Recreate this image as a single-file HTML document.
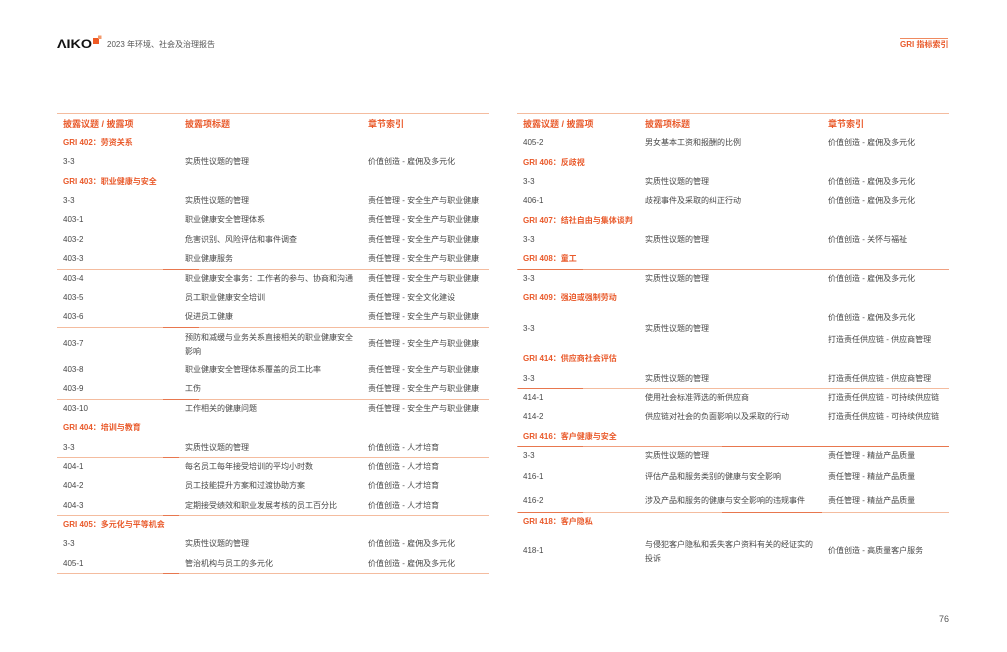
<!DOCTYPE html>
<html>
<head>
<meta charset="utf-8">
<style>
  html,body{margin:0;padding:0;background:#fff;}
  body{width:1007px;height:652px;position:relative;overflow:hidden;
       font-family:"Liberation Sans","Noto Sans CJK SC",sans-serif;color:#474747;}
  .tbl{position:absolute;top:0;left:0;width:432px;height:652px;}
  .r{position:absolute;left:0;width:432px;height:12px;font-size:8px;line-height:12px;white-space:nowrap;}
  .r span{position:absolute;top:0;}
  .a{left:6px;}
  .b{left:128px;}
  .c{left:311px;}
  .h{font-size:9px;font-weight:bold;color:#e95a2b;}
  .s{font-weight:bold;color:#e95a2b;}
  .l{position:absolute;left:0;width:432px;height:1px;background:#f4bc9f;}
  .l i{position:absolute;top:0;height:1px;background:#e8774e;}
  .two{line-height:14px !important;}
</style>
</head>
<body>

<!-- Header -->
<svg style="position:absolute;left:55px;top:34px" width="50" height="18">
  <text x="2" y="14" font-family="Liberation Sans, sans-serif" font-weight="bold" font-size="11.5" fill="#111" textLength="35" lengthAdjust="spacingAndGlyphs">ΛIKO</text>
  <rect x="38" y="4" width="6" height="6" fill="#ef5a24"/>
  <rect x="43" y="1.5" width="3.5" height="3.5" fill="#f39a6c"/>
</svg>
<div style="position:absolute;left:107px;top:39px;font-size:8px;line-height:12px;color:#555;white-space:nowrap;">2023 年环境、社会及治理报告</div>

<div style="position:absolute;left:900px;top:38px;width:48px;height:1px;background:#ef8a60;"></div>
<div style="position:absolute;left:900px;top:39px;font-size:8px;line-height:12px;font-weight:bold;color:#e95a2b;white-space:nowrap;">GRI 指标索引</div>

<div style="position:absolute;left:939px;top:613px;font-size:9px;line-height:12px;color:#555;">76</div>

<!-- Left table -->
<div class="tbl" style="left:57px;">
  <div class="l" style="top:113px;"></div>
  <div class="r" style="top:118px;"><span class="a h">披露议题 / 披露项</span><span class="b h">披露项标题</span><span class="c h">章节索引</span></div>
  <div class="r" style="top:137px;"><span class="a s">GRI 402：劳资关系</span></div>
  <div class="r" style="top:156px;"><span class="a">3-3</span><span class="b">实质性议题的管理</span><span class="c">价值创造 - 雇佣及多元化</span></div>
  <div class="r" style="top:176px;"><span class="a s">GRI 403：职业健康与安全</span></div>
  <div class="r" style="top:195px;"><span class="a">3-3</span><span class="b">实质性议题的管理</span><span class="c">责任管理 - 安全生产与职业健康</span></div>
  <div class="r" style="top:214px;"><span class="a">403-1</span><span class="b">职业健康安全管理体系</span><span class="c">责任管理 - 安全生产与职业健康</span></div>
  <div class="r" style="top:234px;"><span class="a">403-2</span><span class="b">危害识别、风险评估和事件调查</span><span class="c">责任管理 - 安全生产与职业健康</span></div>
  <div class="r" style="top:253px;"><span class="a">403-3</span><span class="b">职业健康服务</span><span class="c">责任管理 - 安全生产与职业健康</span></div>
  <div class="l" style="top:269px;"><i style="left:106px;width:36px;"></i></div>
  <div class="r" style="top:273px;"><span class="a">403-4</span><span class="b">职业健康安全事务：工作者的参与、协商和沟通</span><span class="c">责任管理 - 安全生产与职业健康</span></div>
  <div class="r" style="top:292px;"><span class="a">403-5</span><span class="b">员工职业健康安全培训</span><span class="c">责任管理 - 安全文化建设</span></div>
  <div class="r" style="top:311px;"><span class="a">403-6</span><span class="b">促进员工健康</span><span class="c">责任管理 - 安全生产与职业健康</span></div>
  <div class="l" style="top:327px;"><i style="left:106px;width:36px;"></i></div>
  <div class="r" style="top:338px;"><span class="a">403-7</span><span class="c">责任管理 - 安全生产与职业健康</span></div>
  <div class="r" style="top:331px;height:28px;"><span class="b two">预防和减缓与业务关系直接相关的职业健康安全<br>影响</span></div>
  <div class="r" style="top:364px;"><span class="a">403-8</span><span class="b">职业健康安全管理体系覆盖的员工比率</span><span class="c">责任管理 - 安全生产与职业健康</span></div>
  <div class="r" style="top:383px;"><span class="a">403-9</span><span class="b">工伤</span><span class="c">责任管理 - 安全生产与职业健康</span></div>
  <div class="l" style="top:399px;"><i style="left:106px;width:36px;"></i></div>
  <div class="r" style="top:403px;"><span class="a">403-10</span><span class="b">工作相关的健康问题</span><span class="c">责任管理 - 安全生产与职业健康</span></div>
  <div class="r" style="top:422px;"><span class="a s">GRI 404：培训与教育</span></div>
  <div class="r" style="top:442px;"><span class="a">3-3</span><span class="b">实质性议题的管理</span><span class="c">价值创造 - 人才培育</span></div>
  <div class="l" style="top:457px;"><i style="left:106px;width:16px;"></i></div>
  <div class="r" style="top:461px;"><span class="a">404-1</span><span class="b">每名员工每年接受培训的平均小时数</span><span class="c">价值创造 - 人才培育</span></div>
  <div class="r" style="top:480px;"><span class="a">404-2</span><span class="b">员工技能提升方案和过渡协助方案</span><span class="c">价值创造 - 人才培育</span></div>
  <div class="r" style="top:500px;"><span class="a">404-3</span><span class="b">定期接受绩效和职业发展考核的员工百分比</span><span class="c">价值创造 - 人才培育</span></div>
  <div class="l" style="top:515px;"><i style="left:106px;width:16px;"></i></div>
  <div class="r" style="top:519px;"><span class="a s">GRI 405：多元化与平等机会</span></div>
  <div class="r" style="top:538px;"><span class="a">3-3</span><span class="b">实质性议题的管理</span><span class="c">价值创造 - 雇佣及多元化</span></div>
  <div class="r" style="top:558px;"><span class="a">405-1</span><span class="b">管治机构与员工的多元化</span><span class="c">价值创造 - 雇佣及多元化</span></div>
  <div class="l" style="top:573px;"><i style="left:106px;width:16px;"></i></div>
</div>

<!-- Right table -->
<div class="tbl" style="left:517px;">
  <div class="l" style="top:113px;"></div>
  <div class="r" style="top:118px;"><span class="a h">披露议题 / 披露项</span><span class="b h">披露项标题</span><span class="c h">章节索引</span></div>
  <div class="r" style="top:137px;"><span class="a">405-2</span><span class="b">男女基本工资和报酬的比例</span><span class="c">价值创造 - 雇佣及多元化</span></div>
  <div class="r" style="top:157px;"><span class="a s">GRI 406：反歧视</span></div>
  <div class="r" style="top:176px;"><span class="a">3-3</span><span class="b">实质性议题的管理</span><span class="c">价值创造 - 雇佣及多元化</span></div>
  <div class="r" style="top:195px;"><span class="a">406-1</span><span class="b">歧视事件及采取的纠正行动</span><span class="c">价值创造 - 雇佣及多元化</span></div>
  <div class="r" style="top:215px;"><span class="a s">GRI 407：结社自由与集体谈判</span></div>
  <div class="r" style="top:234px;"><span class="a">3-3</span><span class="b">实质性议题的管理</span><span class="c">价值创造 - 关怀与福祉</span></div>
  <div class="r" style="top:253px;"><span class="a s">GRI 408：童工</span></div>
  <div class="l" style="top:269px;background:#f0a080;"><i style="left:1px;width:65px;"></i></div>
  <div class="r" style="top:273px;"><span class="a">3-3</span><span class="b">实质性议题的管理</span><span class="c">价值创造 - 雇佣及多元化</span></div>
  <div class="r" style="top:292px;"><span class="a s">GRI 409：强迫或强制劳动</span></div>
  <div class="r" style="top:312px;"><span class="c">价值创造 - 雇佣及多元化</span></div>
  <div class="r" style="top:323px;"><span class="a">3-3</span><span class="b">实质性议题的管理</span></div>
  <div class="r" style="top:334px;"><span class="c">打造责任供应链 - 供应商管理</span></div>
  <div class="r" style="top:353px;"><span class="a s">GRI 414：供应商社会评估</span></div>
  <div class="r" style="top:373px;"><span class="a">3-3</span><span class="b">实质性议题的管理</span><span class="c">打造责任供应链 - 供应商管理</span></div>
  <div class="l" style="top:388px;"><i style="left:1px;width:65px;"></i></div>
  <div class="r" style="top:392px;"><span class="a">414-1</span><span class="b">使用社会标准筛选的新供应商</span><span class="c">打造责任供应链 - 可持续供应链</span></div>
  <div class="r" style="top:411px;"><span class="a">414-2</span><span class="b">供应链对社会的负面影响以及采取的行动</span><span class="c">打造责任供应链 - 可持续供应链</span></div>
  <div class="r" style="top:431px;"><span class="a s">GRI 416：客户健康与安全</span></div>
  <div class="l" style="top:446px;background:#f0a080;"><i style="left:1px;width:65px;"></i><i style="left:205px;width:227px;"></i></div>
  <div class="r" style="top:450px;"><span class="a">3-3</span><span class="b">实质性议题的管理</span><span class="c">责任管理 - 精益产品质量</span></div>
  <div class="r" style="top:471px;"><span class="a">416-1</span><span class="b">评估产品和服务类别的健康与安全影响</span><span class="c">责任管理 - 精益产品质量</span></div>
  <div class="r" style="top:495px;"><span class="a">416-2</span><span class="b">涉及产品和服务的健康与安全影响的违规事件</span><span class="c">责任管理 - 精益产品质量</span></div>
  <div class="l" style="top:512px;"><i style="left:1px;width:65px;"></i><i style="left:205px;width:100px;"></i></div>
  <div class="r" style="top:516px;"><span class="a s">GRI 418：客户隐私</span></div>
  <div class="r" style="top:545px;"><span class="a">418-1</span><span class="c">价值创造 - 高质量客户服务</span></div>
  <div class="r" style="top:538px;height:28px;"><span class="b two">与侵犯客户隐私和丢失客户资料有关的经证实的<br>投诉</span></div>
</div>

</body>
</html>
